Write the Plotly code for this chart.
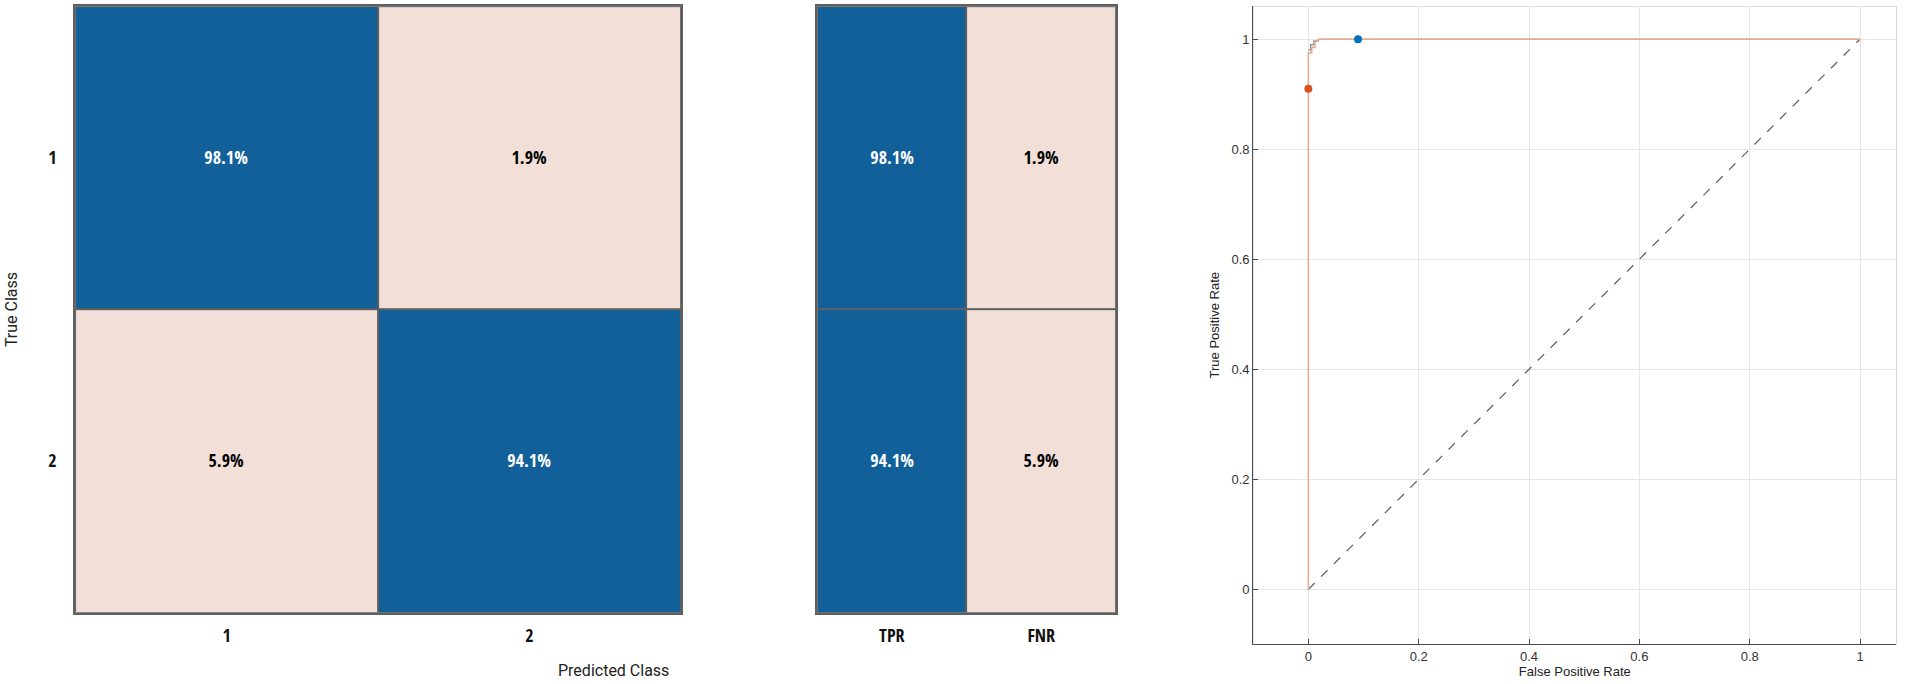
import plotly.graph_objects as go

# ---------------- data ----------------
classes = ["1", "2"]
cm_pct = [[98.1, 1.9],
          [5.9, 94.1]]
rate_labels = ["TPR", "FNR"]
rate_pct = [[98.1, 1.9],
            [94.1, 5.9]]

roc_fpr = [0.0, 0.0, 0.006, 0.006, 0.012, 0.012, 0.02, 1.0]
roc_tpr = [0.0, 0.975, 0.975, 0.985, 0.985, 0.995, 1.0, 1.0]
roc2_fpr = [0.0, 0.004, 0.004, 0.01, 0.01, 0.018, 0.018]
roc2_tpr = [0.98, 0.98, 0.99, 0.99, 0.997, 0.997, 1.0]
diag_x = [0, 1]
diag_y = [0, 1]
op_red = ([0.0], [0.91])
op_blue = ([0.09], [1.0])

BLUE = "#11609A"
PINK = "#F2E0D8"
BORDER = "#5F5F5F"
cscale = [[0, PINK], [0.5, PINK], [0.5, BLUE], [1, BLUE]]
cm_font = ("Noto Sans Condensed, Open Sans Condensed, Roboto Condensed, "
           "DejaVu Sans Condensed, Liberation Sans Narrow, Roboto, sans-serif")
roc_font = "Liberation Sans, Arial, sans-serif"

fig = go.Figure()


def add_matrix(z, xcats, xa, ya):
    # dark cells (white text) and light cells (black text) as two layers
    for is_dark, tcolor in ((True, "white"), (False, "black")):
        zz = [[v if (v > 50) == is_dark else None for v in row] for row in z]
        tt = [[f"{v:.1f}%" if (v > 50) == is_dark else "" for v in row] for row in z]
        fig.add_trace(go.Heatmap(
            z=zz, x=xcats, y=classes, text=tt, texttemplate="%{text}",
            textfont=dict(family=cm_font, size=18, weight="bold", color=tcolor),
            colorscale=cscale, zmin=0, zmax=100, showscale=False,
            xgap=2, ygap=2, hoverinfo="skip", xaxis=xa, yaxis=ya))


add_matrix(cm_pct, classes, "x", "y")
add_matrix(rate_pct, rate_labels, "x2", "y2")

fig.add_trace(go.Scatter(x=diag_x, y=diag_y, mode="lines",
                         line=dict(color="#5A5A5A", width=1.2, dash="dash"),
                         xaxis="x3", yaxis="y3", showlegend=False))
fig.add_trace(go.Scatter(x=roc2_fpr, y=roc2_tpr, mode="lines",
                         line=dict(color="#8A8A8A", width=1.2),
                         xaxis="x3", yaxis="y3", showlegend=False))
fig.add_trace(go.Scatter(x=roc_fpr, y=roc_tpr, mode="lines",
                         line=dict(color="#DDAE92", width=1.6),
                         xaxis="x3", yaxis="y3", showlegend=False))
fig.add_trace(go.Scatter(x=op_red[0], y=op_red[1], mode="markers",
                         marker=dict(color="#D95319", size=8),
                         xaxis="x3", yaxis="y3", showlegend=False))
fig.add_trace(go.Scatter(x=op_blue[0], y=op_blue[1], mode="markers",
                         marker=dict(color="#0072BD", size=8),
                         xaxis="x3", yaxis="y3", showlegend=False))

tickfont_cm = dict(family=cm_font, size=18, color="#111111", weight="bold")
cm_axis_common = dict(showline=True, mirror=True, linecolor=BORDER, linewidth=2,
                      showgrid=False, zeroline=False, tickfont=tickfont_cm)

fig.update_layout(
    width=1906, height=684,
    margin=dict(l=0, r=0, t=0, b=0),
    paper_bgcolor="white",
    plot_bgcolor=BORDER,
    showlegend=False,
    xaxis=dict(domain=[0.0394, 0.3573], anchor="y", type="category",
               ticks="outside", ticklen=6, tickcolor="rgba(0,0,0,0)",
               **cm_axis_common),
    yaxis=dict(domain=[0.104, 0.991], anchor="x", type="category",
               autorange="reversed",
               ticks="outside", ticklen=13, tickcolor="rgba(0,0,0,0)",
               title=dict(text="True Class", standoff=27,
                          font=dict(family="Roboto, sans-serif", size=16, color="#222222")),
               **cm_axis_common),
    xaxis2=dict(domain=[0.4287, 0.5855], anchor="y2", type="category",
                ticks="outside", ticklen=6, tickcolor="rgba(0,0,0,0)",
                **cm_axis_common),
    yaxis2=dict(domain=[0.104, 0.991], anchor="x2", type="category",
                autorange="reversed", showticklabels=False, ticks="", **cm_axis_common),
    xaxis3=dict(domain=[0.6575, 0.995], anchor="y3", range=[-0.1, 1.066],
                tickvals=[0, 0.2, 0.4, 0.6, 0.8, 1], ticktext=["0", "0.2", "0.4", "0.6", "0.8", "1"],
                showline=True, linecolor="#4D4D4D", linewidth=1, mirror=False,
                ticks="inside", ticklen=5, tickcolor="#4D4D4D",
                showgrid=True, gridcolor="#E6E6E6", zeroline=False,
                tickfont=dict(family=roc_font, size=13, color="#333333"),
                title=dict(text="False Positive Rate", standoff=2,
                           font=dict(family=roc_font, size=13, color="#222222"))),
    yaxis3=dict(domain=[0.058, 0.991], anchor="x3", range=[-0.1, 1.06],
                tickvals=[0, 0.2, 0.4, 0.6, 0.8, 1], ticktext=["0", "0.2", "0.4", "0.6", "0.8", "1"],
                showline=True, linecolor="#4D4D4D", linewidth=1, mirror=False,
                ticks="inside", ticklen=5, tickcolor="#4D4D4D",
                showgrid=True, gridcolor="#E6E6E6", zeroline=False,
                tickfont=dict(family=roc_font, size=13, color="#333333"),
                title=dict(text="True Positive Rate", standoff=8,
                           font=dict(family=roc_font, size=13, color="#222222"))),
    annotations=[dict(text="Predicted Class", xref="paper", yref="paper",
                      x=613 / 1906, y=1 - 670 / 684, xanchor="center", yanchor="middle",
                      showarrow=False,
                      font=dict(family="Roboto, sans-serif", size=16, color="#222222"))],
    shapes=[dict(type="rect", xref="x3 domain", yref="y3 domain", x0=0, x1=1, y0=0, y1=1,
                 fillcolor="white", line=dict(width=0), layer="below")],
)

fig.write_html("out.html", config={"displayModeBar": False},
               post_script="document.body.style.margin='0';")
